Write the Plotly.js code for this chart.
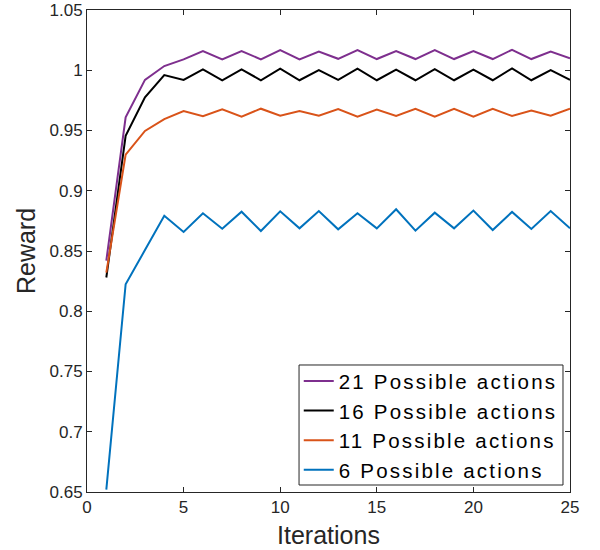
<!DOCTYPE html>
<html>
<head>
<meta charset="utf-8">
<script src="https://cdn.plot.ly/plotly-3.0.1.min.js"></script>
<style>html,body{margin:0;padding:0;background:#fff;}#chart{width:600px;height:550px;}
text.legendtext{letter-spacing:2.2px;}</style>
</head>
<body>
<div id="chart"></div>
<script>
const iterations = [1,2,3,4,5,6,7,8,9,10,11,12,13,14,15,16,17,18,19,20,21,22,23,24,25];
const reward21 = [0.842,0.961,0.992,1.0035,1.009,1.016,1.009,1.016,1.009,1.0168,1.009,1.0155,1.0095,1.0168,1.0093,1.016,1.0093,1.0168,1.0093,1.016,1.0093,1.017,1.0093,1.0155,1.010];
const reward16 = [0.828,0.9455,0.9775,0.996,0.992,1.0008,0.9917,1.0008,0.9917,1.0013,0.9917,1.0002,0.992,1.0013,0.9917,1.0005,0.9917,1.001,0.9917,1.0005,0.9917,1.0015,0.9917,1.0002,0.992];
const reward11 = [0.832,0.930,0.9496,0.9595,0.9662,0.9618,0.9676,0.9615,0.9681,0.9623,0.9662,0.9623,0.9678,0.9615,0.9673,0.962,0.968,0.9615,0.968,0.9615,0.968,0.962,0.9665,0.9623,0.968];
const reward6 = [0.652,0.8224,0.8508,0.8793,0.8658,0.8813,0.8685,0.8826,0.8666,0.8829,0.8688,0.8832,0.868,0.8813,0.8688,0.8846,0.8669,0.8818,0.8688,0.8835,0.8674,0.8824,0.8683,0.8832,0.8688];
const seriesNames = ['21 Possible actions','16 Possible actions','11 Possible actions','6 Possible actions'];
const yTickVals = [0.65,0.7,0.75,0.8,0.85,0.9,0.95,1,1.05];
const yTickText = ['0.65','0.7','0.75','0.8','0.85','0.9','0.95','1','1.05'];
const xTickVals = [0,5,10,15,20,25];

const colors = ['#7E2F8E','#000000','#D95319','#0072BD'];
const allY = [reward21, reward16, reward11, reward6];
const traces = allY.map((y,i)=>({
  x: iterations, y: y, name: seriesNames[i], type:'scatter', mode:'lines',
  line:{color:colors[i], width:2}
}));

const fontFam = '"Liberation Sans", Arial, Helvetica, sans-serif';
const axisCommon = {
  showgrid:false, zeroline:false, showline:true, linecolor:'#262626', linewidth:1,
  mirror:'ticks', ticks:'inside', ticklen:5, tickcolor:'#262626', tickwidth:1,
  tickfont:{family:fontFam, size:17, color:'#262626'}
};
const layout = {
  width:600, height:550,
  margin:{l:87, r:30, t:10, b:58},
  paper_bgcolor:'#fff', plot_bgcolor:'#fff',
  font:{family:fontFam, color:'#262626'},
  showlegend:true,
  legend:{x:0.985, y:0.004, xanchor:'right', yanchor:'bottom',
    borderwidth:0, bgcolor:'rgba(0,0,0,0)',
    font:{family:fontFam, size:20.5, color:'#000'}, tracegroupgap:0},
  shapes:[{type:'rect', xref:'paper', yref:'paper', x0:0.439, x1:0.9855, y0:0.0145, y1:0.2635,
    line:{color:'#262626', width:1}, fillcolor:'#fff', layer:'below'}],
  xaxis:Object.assign({}, axisCommon, {range:[0,25], tickvals:xTickVals,
    title:{text:'Iterations', font:{family:fontFam, size:25, color:'#262626'}, standoff:10}}),
  yaxis:Object.assign({}, axisCommon, {range:[0.65,1.05], tickvals:yTickVals, ticktext:yTickText,
    title:{text:'Reward', font:{family:fontFam, size:25, color:'#262626'}, standoff:6}})
};
Plotly.newPlot('chart', traces, layout, {displayModeBar:false, staticPlot:true});
</script>
</body>
</html>
